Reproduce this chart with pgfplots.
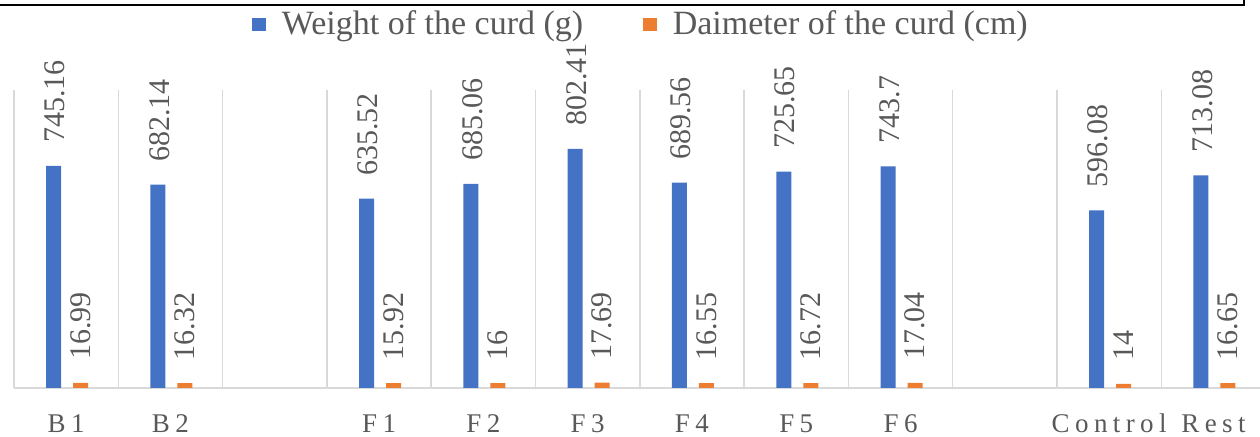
\documentclass[border=0pt]{standalone}
\usepackage{fontspec}
\setmainfont{Liberation Serif}
\usepackage{pgfplots}
\usepackage{pgfplotstable}
\pgfplotsset{compat=1.18}
\definecolor{barblue}{RGB}{68,114,196}
\definecolor{barorange}{RGB}{237,125,49}
\definecolor{textgray}{RGB}{89,89,89}
\definecolor{gridgray}{RGB}{217,217,217}
\pgfplotsset{sqlegend/.style={legend image code/.code={\fill[##1] (0pt,-3.4pt) rectangle (6.8pt,3.4pt);}}}

\pgfplotstableread{
x y lab
0 745.16 745.16
1 682.14 682.14
3 635.52 635.52
4 685.06 685.06
5 802.41 802.41
6 689.56 689.56
7 725.65 725.65
8 743.7 743.7
10 596.08 596.08
11 713.08 713.08
}\weightdata

\pgfplotstableread{
x y lab
0 16.99 16.99
1 16.32 16.32
3 15.92 15.92
4 16 16
5 17.69 17.69
6 16.55 16.55
7 16.72 16.72
8 17.04 17.04
10 14 14
11 16.65 16.65
}\diamdata

\begin{document}
\begin{tikzpicture}
\path[use as bounding box] (0,0) rectangle (630pt,218.5pt);
\begin{axis}[
  at={(7pt,24.5pt)}, anchor=south west,
  scale only axis,
  width=625.8pt, height=149pt,
  xmin=-0.5, xmax=11.5,
  ymin=0, ymax=1000,
  clip=false,
  axis x line=bottom,
  axis y line=none,
  x axis line style={draw=gridgray, line width=1pt, -},
  xtick={0,1,3,4,5,6,7,8,10,11},
  xticklabels={B1,B2,F1,F2,F3,F4,F5,F6,Control,Rest},
  major tick length=0pt,
  minor xtick={-0.5,0.5,...,11.5},
  minor tick length=0pt,
  xminorgrids=true,
  minor grid style={draw=gridgray, line width=0.75pt},
  xticklabel style={font=\fontsize{13.5}{13.5}\selectfont\addfontfeature{LetterSpace=20}, text=textgray, anchor=base, yshift=-22.5pt, inner sep=0pt},
  legend style={at={(0.5018,1.2198)}, anchor=center, draw=none, fill=none,
    font=\fontsize{17}{17}\selectfont, text=textgray,
    /tikz/every odd column/.append style={column sep=6pt},
    /tikz/every even column/.append style={column sep=28pt}},
  legend columns=2,
  legend cell align=left,
  nodes near coords,
  point meta=explicit symbolic,
  nodes near coords style={rotate=90, anchor=west, font=\fontsize{15}{15}\selectfont, text=textgray, inner xsep=11.5pt, inner ysep=0pt, outer sep=0pt},
]
\addplot[ybar, sqlegend, fill=barblue, draw=none, bar width=7.5pt, bar shift=-6.25pt,
  every node near coord/.append style={yshift=5.5pt}] table[x=x, y=y, meta=lab] {\weightdata};
\addlegendentry{Weight of the curd (g)}
\addplot[ybar, sqlegend, fill=barorange, draw=none, bar width=7.5pt, bar shift=7.25pt,
  every node near coord/.append style={yshift=-7.25pt}] table[x=x, y=y, meta=lab] {\diamdata};
\addlegendentry{Daimeter of the curd (cm)}
\end{axis}
\draw[line width=1.25pt, black] (0pt,216pt) -- (622pt,216pt) -- (622pt,219pt);
\end{tikzpicture}
\end{document}
